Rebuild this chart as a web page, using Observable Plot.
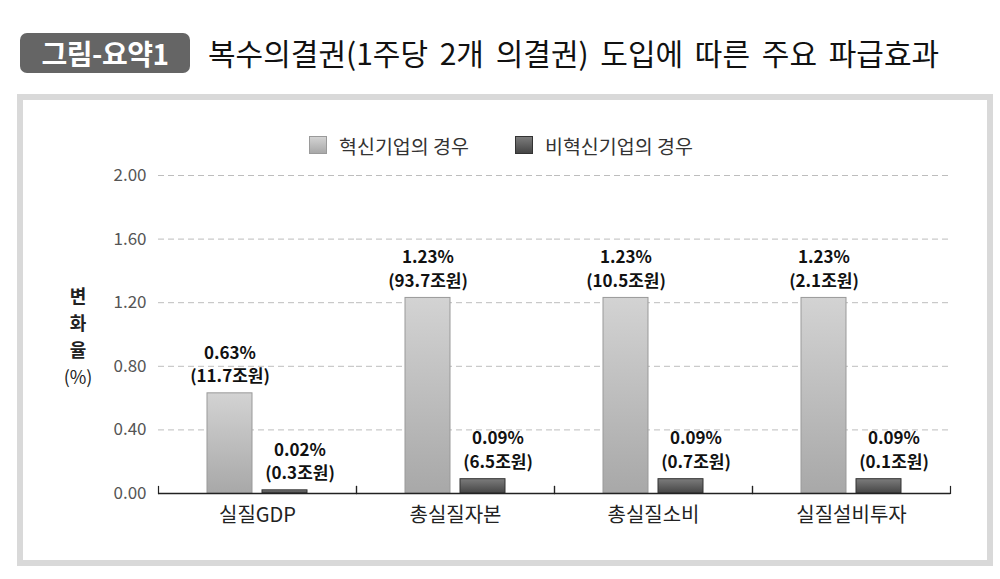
<!DOCTYPE html>
<html><head><meta charset="utf-8">
<script src="https://cdn.jsdelivr.net/npm/d3@7"></script>
<script src="https://cdn.jsdelivr.net/npm/@observablehq/plot@0.6"></script>
<style>
body{margin:0;width:1000px;height:579px;position:relative;background:#fff;font-family:"Noto Sans CJK KR","Noto Sans",sans-serif;overflow:hidden}
#badge{position:absolute;left:20px;top:33px;width:170px;height:40px;background:#656565;border-radius:7px;color:#fff;font-size:28px;font-weight:bold;line-height:40px;text-align:center;letter-spacing:-0.5px}
#title{position:absolute;left:208px;top:32px;height:40px;line-height:40px;font-size:30px;color:#111;white-space:nowrap;word-spacing:5px}
#frame{position:absolute;left:17px;top:94px;width:976px;height:472px;border:6px solid #d9d9d9;box-sizing:border-box}
#legend{position:absolute;left:309px;top:132px;height:26px;display:flex;align-items:center;font-size:19.5px;color:#333}
#legend .sw{width:18px;height:18px;margin-right:12px;box-sizing:border-box}
#legend .item{display:flex;align-items:center;margin-right:46px}
#ylabel{position:absolute;left:60px;top:282px;width:36px;text-align:center;font-size:18px;color:#222}
#ylabel div{height:27px;line-height:27px}
#chart{position:absolute;left:0;top:100px}
</style></head><body>
<svg width="0" height="0" style="position:absolute">
<defs>
<linearGradient id="gLight" x1="0" y1="0" x2="0" y2="1">
<stop offset="0" stop-color="#d3d3d3"/><stop offset="1" stop-color="#a8a8a8"/>
</linearGradient>
<linearGradient id="gDark" x1="0" y1="0" x2="0" y2="1">
<stop offset="0" stop-color="#7c7c7c"/><stop offset="1" stop-color="#454545"/>
</linearGradient>
</defs>
</svg>
<div id="badge">그림-요약1</div>
<div id="title">복수의결권(1주당 2개 의결권) 도입에 따른 주요 파급효과</div>
<div id="frame"></div>
<div id="legend"></div>
<div id="ylabel"><div><b>변</b></div><div><b>화</b></div><div><b>율</b></div><div>(%)</div></div>
<div id="chart"></div>
<script>
const categories = ["실질GDP", "총실질자본", "총실질소비", "실질설비투자"];
const series = ["혁신기업의 경우", "비혁신기업의 경우"];
const innovValues = [0.63, 1.23, 1.23, 1.23];
const nonInnovValues = [0.02, 0.09, 0.09, 0.09];
const innovAmounts = ["11.7조원", "93.7조원", "10.5조원", "2.1조원"];
const nonInnovAmounts = ["0.3조원", "6.5조원", "0.7조원", "0.1조원"];
const yTicks = [0, 0.4, 0.8, 1.2, 1.6, 2.0];

const data = categories.flatMap((c, i) => [
  {category: c, series: series[0], value: innovValues[i], amount: innovAmounts[i]},
  {category: c, series: series[1], value: nonInnovValues[i], amount: nonInnovAmounts[i]}
]);
const label = d => `${d.value.toFixed(2)}%\n(${d.amount})`;
const isA = d => d.series === series[0];
const isB = d => d.series === series[1];

const legend = document.getElementById("legend");
[["linear-gradient(#d3d3d3,#a8a8a8)", "#9a9a9a"], ["linear-gradient(#7c7c7c,#454545)", "#333"]].forEach(([bg, bd], i) => {
  const item = document.createElement("div");
  item.className = "item";
  item.innerHTML = `<div class="sw" style="background:${bg};border:1px solid ${bd}"></div><span>${series[i]}</span>`;
  legend.appendChild(item);
});

const chart = Plot.plot({
  width: 1000, height: 460,
  marginTop: 75, marginBottom: 67, marginLeft: 157, marginRight: 50,
  style: {fontFamily: '"Noto Sans CJK KR", "Noto Sans", sans-serif', background: "transparent", overflow: "visible"},
  fx: {domain: categories, padding: 0, label: null},
  x: {domain: series, paddingInner: 0.182, paddingOuter: 0.891, axis: null},
  y: {domain: [0, 2], label: null},
  marks: [
    Plot.ruleY(yTicks.filter(t => t > 0), {stroke: "#bdbdbd", strokeDasharray: "6,4", strokeWidth: 1}),
    Plot.barY(data, {filter: isA, fx: "category", x: "series", y: "value", fill: "url(#gLight)", stroke: "#999", strokeWidth: 1}),
    Plot.barY(data, {filter: isB, fx: "category", x: "series", y: "value", fill: "url(#gDark)", stroke: "#333", strokeWidth: 1}),
    Plot.text(data, {filter: isA, fx: "category", x: "series", y: "value", text: label, lineAnchor: "bottom", lineHeight: 1.4, dy: -11, fontSize: 17, fontWeight: "bold", fill: "#111"}),
    Plot.text(data, {filter: isB, fx: "category", x: "series", y: "value", text: label, lineAnchor: "bottom", lineHeight: 1.4, dy: -11, dx: 15, fontSize: 17, fontWeight: "bold", fill: "#111"}),
    Plot.ruleY([0], {stroke: "#222", strokeWidth: 1.5}),
    Plot.frame({anchor: "left", insetTop: 311, stroke: "#222", strokeWidth: 1.2}),
    Plot.frame({anchor: "right", insetTop: 311, stroke: "#222", strokeWidth: 1.2}),
    Plot.axisY({ticks: yTicks, tickFormat: d3.format(".2f"), tickSize: 0, tickPadding: 12, fontSize: 17, fill: "#555", label: null}),
    Plot.axisFx({anchor: "bottom", tickSize: 0, tickPadding: 14, fontSize: 20, fill: "#222", label: null})
  ]
});
document.getElementById("chart").appendChild(chart);
</script>
</body></html>
